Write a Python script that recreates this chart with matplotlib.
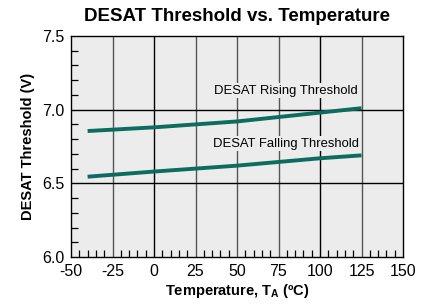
import matplotlib

matplotlib.use("Agg")
import matplotlib.pyplot as plt
from matplotlib.ticker import MultipleLocator

# data
temp_c = [-40, 0, 25, 50, 75, 100, 125]
rising_v = [6.855, 6.88, 6.90, 6.92, 6.95, 6.98, 7.01]
falling_v = [6.545, 6.58, 6.60, 6.62, 6.645, 6.67, 6.69]
x_ticks = [-50, -25, 0, 25, 50, 75, 100, 125, 150]
y_ticks = [6.0, 6.5, 7.0, 7.5]

TEAL = "#0d6b5f"
BG = "#ececec"

plt.rcParams["font.family"] = ["Liberation Sans", "DejaVu Sans"]
plt.rcParams["axes.unicode_minus"] = False

fig = plt.figure(figsize=(4.26, 3.07), dpi=100)
ax = fig.add_axes([71 / 426, 1 - 257 / 307, 332 / 426, 221 / 307])
ax.set_facecolor(BG)

for x in x_ticks[1:-1]:
    ax.axvline(x, color="#555555" if x not in (0, 100) else "black", lw=1.0, zorder=1)
for y in y_ticks[1:-1]:
    ax.axhline(y, color="black", lw=1.0, zorder=1)

ax.plot(temp_c, rising_v, color=TEAL, lw=2.8, solid_capstyle="butt", zorder=3)
ax.plot(temp_c, falling_v, color=TEAL, lw=2.8, solid_capstyle="butt", zorder=3)

narrow = ["Liberation Sans Narrow", "Liberation Sans", "DejaVu Sans"]
ax.text(79.5, 7.13, "DESAT Rising Threshold", fontsize=9.4, family=narrow, ha="center", va="center",
        bbox=dict(facecolor=BG, edgecolor="none", pad=1.0), zorder=2)
ax.text(79.5, 6.77, "DESAT Falling Threshold", fontsize=9.4, family=narrow, ha="center", va="center",
        bbox=dict(facecolor=BG, edgecolor="none", pad=1.0), zorder=2)

ax.set_xlim(-50, 150)
ax.set_ylim(6.0, 7.5)
ax.set_xticks(x_ticks)
ax.set_yticks(y_ticks)
ax.set_yticklabels([f"{v:.1f}" for v in y_ticks])
ax.xaxis.set_minor_locator(MultipleLocator(5))
ax.yaxis.set_minor_locator(MultipleLocator(0.1))
ax.tick_params(which="major", length=0, labelsize=11.5, pad=5)
ax.tick_params(which="minor", direction="in", length=5, width=0.9, color="black")
ax.tick_params(axis="x", which="minor", top=False)
ax.tick_params(axis="y", which="minor", right=False)
for s in ax.spines.values():
    s.set_color("black")
    s.set_linewidth(1.0)

ax.set_title("DESAT Threshold vs. Temperature", fontsize=13.5, fontweight="bold", pad=11)
ax.set_ylabel("DESAT Threshold (V)", fontsize=10.5, fontweight="bold", labelpad=5)
ax.set_xlabel(r"Temperature, T$_\mathregular{A}$ (ºC)", fontsize=10.5, fontweight="bold", labelpad=2)

fig.savefig("out.png", dpi=100)
